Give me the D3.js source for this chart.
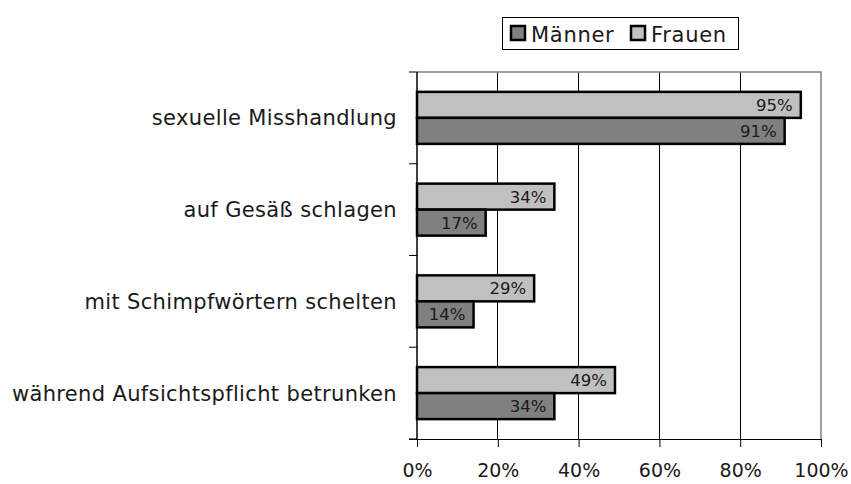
<!DOCTYPE html>
<html><head><meta charset="utf-8">
<script src="https://cdn.jsdelivr.net/npm/d3@7"></script>
<style>
body{margin:0;background:#fff;}
svg text{font-family:"DejaVu Sans",sans-serif;fill:#1a1a1a;}
</style></head>
<body>
<svg id="chart" width="851" height="484"></svg>
<script>
const categories = ["sexuelle Misshandlung","auf Gesäß schlagen","mit Schimpfwörtern schelten","während Aufsichtspflicht betrunken"];
const seriesNames = ["Frauen","Männer"];
const frauen = [95,34,29,49];
const maenner = [91,17,14,34];
const xTicks = [0,20,40,60,80,100];
const legendOrder = ["Männer","Frauen"];
const colors = {"Männer":"#808080","Frauen":"#c0c0c0"};

(function(){
const svg = d3.select("#chart");
const pLeft = 417, pRight = 821, pTop = 72, pBottom = 439;
const x = d3.scaleLinear().domain([0,100]).range([pLeft,pRight]);
const y = d3.scaleBand().domain(categories).range([pTop,pBottom]).paddingInner(0.433).paddingOuter(0.2167);
const ySub = d3.scaleBand().domain(seriesNames).range([0,y.bandwidth()]);
const data = categories.map((c,i)=>({cat:c, values:[{s:"Frauen",v:frauen[i]},{s:"Männer",v:maenner[i]}]}));

// gridlines
svg.append("g").selectAll("line").data(xTicks.slice(1,-1)).join("line")
  .attr("x1",d=>x(d)).attr("x2",d=>x(d)).attr("y1",pTop).attr("y2",pBottom)
  .attr("stroke","#000").attr("stroke-width",1).attr("shape-rendering","crispEdges");
// plot border top/right
svg.append("path").attr("d",`M${pLeft},${pTop}H${pRight}V${pBottom}`)
  .attr("fill","none").attr("stroke","#808080").attr("stroke-width",1.5);

// bars
const g = svg.append("g").selectAll("g").data(data).join("g")
  .attr("transform",d=>`translate(0,${y(d.cat)})`);
g.selectAll("rect").data(d=>d.values).join("rect")
  .attr("x",x(0)).attr("y",d=>ySub(d.s)).attr("width",d=>x(d.v)-x(0)).attr("height",ySub.bandwidth())
  .attr("fill",d=>colors[d.s]).attr("stroke","#000").attr("stroke-width",2.5);
g.selectAll("text").data(d=>d.values).join("text")
  .attr("x",d=>x(d.v)-8).attr("y",d=>ySub(d.s)+ySub.bandwidth()/2).attr("dy","0.37em")
  .attr("text-anchor","end").attr("font-size",16.5).text(d=>d.v+"%");

// x axis
const xAxis = d3.axisBottom(x).tickValues(xTicks).tickFormat(d=>d+"%").tickSize(8).tickPadding(17);
const gx = svg.append("g").attr("transform",`translate(0,${pBottom})`).call(xAxis);
gx.select(".domain").attr("d",`M${pLeft-8},0.5H${pRight}`).attr("stroke","#000");
gx.selectAll("line").attr("stroke","#000");
gx.selectAll("text").attr("font-size",19).attr("fill","#1a1a1a").attr("font-family","DejaVu Sans");

// y axis with ticks at band boundaries
const bounds = d3.range(categories.length+1).map(i=>pTop + i*y.step());
svg.append("line").attr("x1",pLeft).attr("x2",pLeft).attr("y1",pTop).attr("y2",pBottom).attr("stroke","#000").attr("stroke-width",1.5);
svg.append("g").selectAll("line").data(bounds).join("line")
  .attr("x1",pLeft-8).attr("x2",pLeft).attr("y1",d=>d).attr("y2",d=>d).attr("stroke","#000");
svg.append("g").selectAll("text").data(categories).join("text")
  .attr("x",397).attr("y",d=>y(d)+y.bandwidth()/2).attr("dy","0.36em")
  .attr("text-anchor","end").attr("font-size",21).attr("letter-spacing",0.35).text(d=>d);

// legend
const lg = svg.append("g");
lg.append("rect").attr("x",502.5).attr("y",17.5).attr("width",236).attr("height",32).attr("fill","#fff").attr("stroke","#000").attr("stroke-width",1);
const lx = [510,630];
legendOrder.forEach((s,i)=>{
  lg.append("rect").attr("x",lx[i]+1).attr("y",26).attr("width",14).attr("height",14).attr("fill",colors[s]).attr("stroke","#000").attr("stroke-width",2.5);
  lg.append("text").attr("x",lx[i]+21).attr("y",34).attr("dy","0.36em").attr("font-size",21).attr("letter-spacing",0.7).text(s);
});
})();
</script>
</body></html>
